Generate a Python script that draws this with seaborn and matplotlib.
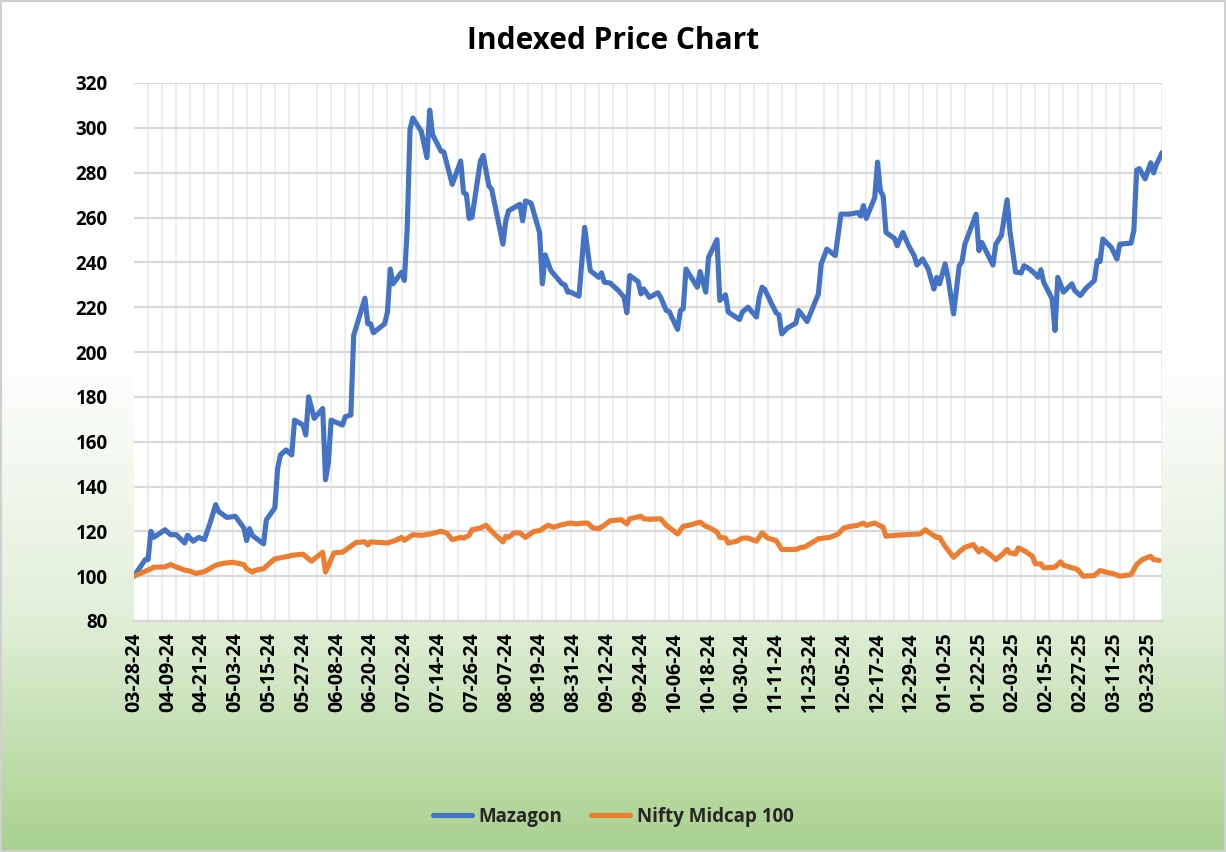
import numpy as np
import pandas as pd
import matplotlib
matplotlib.use("Agg")
import matplotlib.pyplot as plt
import matplotlib.dates as mdates
from matplotlib.ticker import FixedLocator
from matplotlib.lines import Line2D
from matplotlib.patches import Rectangle
import seaborn as sns

# ---------------- data ----------------
mazagon_dates = [
    "2024-03-28", "2024-04-01", "2024-04-02", "2024-04-03", "2024-04-04", "2024-04-08", "2024-04-10",
    "2024-04-12", "2024-04-15", "2024-04-16", "2024-04-18", "2024-04-20", "2024-04-22", "2024-04-24",
    "2024-04-26", "2024-04-27", "2024-04-30", "2024-05-03", "2024-05-06", "2024-05-07", "2024-05-08",
    "2024-05-09", "2024-05-13", "2024-05-14", "2024-05-17", "2024-05-18", "2024-05-19", "2024-05-21",
    "2024-05-23", "2024-05-24", "2024-05-27", "2024-05-28", "2024-05-29", "2024-05-31", "2024-06-03",
    "2024-06-04", "2024-06-05", "2024-06-06", "2024-06-10", "2024-06-11", "2024-06-13", "2024-06-14",
    "2024-06-18", "2024-06-19", "2024-06-20", "2024-06-21", "2024-06-25", "2024-06-26", "2024-06-27",
    "2024-06-28", "2024-07-01", "2024-07-02", "2024-07-03", "2024-07-04", "2024-07-05", "2024-07-08",
    "2024-07-10", "2024-07-11", "2024-07-12", "2024-07-15", "2024-07-16", "2024-07-19", "2024-07-22",
    "2024-07-23", "2024-07-24", "2024-07-25", "2024-07-26", "2024-07-29", "2024-07-30", "2024-08-01",
    "2024-08-02", "2024-08-06", "2024-08-07", "2024-08-08", "2024-08-12", "2024-08-13", "2024-08-14",
    "2024-08-16", "2024-08-19", "2024-08-20", "2024-08-21", "2024-08-23", "2024-08-27", "2024-08-28",
    "2024-08-29", "2024-08-30", "2024-09-02", "2024-09-04", "2024-09-06", "2024-09-09", "2024-09-10",
    "2024-09-11", "2024-09-13", "2024-09-16", "2024-09-18", "2024-09-19", "2024-09-20", "2024-09-23",
    "2024-09-24", "2024-09-25", "2024-09-27", "2024-09-30", "2024-10-01", "2024-10-03", "2024-10-04",
    "2024-10-07", "2024-10-08", "2024-10-09", "2024-10-10", "2024-10-14", "2024-10-15", "2024-10-17",
    "2024-10-18", "2024-10-21", "2024-10-22", "2024-10-24", "2024-10-25", "2024-10-29", "2024-10-30",
    "2024-11-01", "2024-11-04", "2024-11-05", "2024-11-06", "2024-11-07", "2024-11-09", "2024-11-11",
    "2024-11-12", "2024-11-13", "2024-11-15", "2024-11-18", "2024-11-19", "2024-11-22", "2024-11-26",
    "2024-11-27", "2024-11-29", "2024-12-02", "2024-12-04", "2024-12-07", "2024-12-10", "2024-12-11",
    "2024-12-12", "2024-12-13", "2024-12-16", "2024-12-17", "2024-12-18", "2024-12-19", "2024-12-20",
    "2024-12-23", "2024-12-24", "2024-12-26", "2024-12-28", "2024-12-30", "2024-12-31", "2025-01-02",
    "2025-01-04", "2025-01-06", "2025-01-07", "2025-01-08", "2025-01-10", "2025-01-11", "2025-01-13",
    "2025-01-15", "2025-01-16", "2025-01-17", "2025-01-21", "2025-01-22", "2025-01-23", "2025-01-27",
    "2025-01-28", "2025-01-30", "2025-02-01", "2025-02-02", "2025-02-04", "2025-02-06", "2025-02-07",
    "2025-02-09", "2025-02-11", "2025-02-12", "2025-02-13", "2025-02-14", "2025-02-17", "2025-02-18",
    "2025-02-19", "2025-02-21", "2025-02-24", "2025-02-25", "2025-02-27", "2025-03-01", "2025-03-04",
    "2025-03-05", "2025-03-06", "2025-03-07", "2025-03-10", "2025-03-12", "2025-03-13", "2025-03-17",
    "2025-03-18", "2025-03-19", "2025-03-20", "2025-03-22", "2025-03-24", "2025-03-25", "2025-03-26",
    "2025-03-28",
]
mazagon_values = [
    100.0, 107.4, 107.4, 120.0, 117.3, 120.7, 118.5,
    118.5, 114.8, 118.2, 115.6, 117.3, 116.3, 123.7,
    131.9, 128.9, 126.2, 126.7, 121.5, 115.9, 121.2,
    118.2, 114.4, 125.2, 130.4, 148.1, 154.1, 156.3,
    154.1, 169.6, 167.4, 163.0, 180.0, 170.4, 174.8,
    143.0, 150.4, 169.6, 167.4, 171.1, 171.9, 207.4,
    224.0, 212.6, 212.6, 208.6, 212.6, 217.8, 237.0,
    230.4, 235.6, 231.9, 254.8, 299.3, 304.4, 298.5,
    286.7, 307.9, 297.0, 289.6, 289.2, 274.8, 285.2,
    271.1, 270.4, 259.6, 260.0, 285.2, 287.7, 274.1,
    272.6, 248.1, 258.5, 263.0, 265.9, 258.5, 267.4,
    266.4, 253.3, 230.4, 243.3, 236.3, 230.4, 229.9,
    226.7, 226.7, 224.9, 255.6, 236.3, 233.3, 235.3,
    231.1, 230.8, 227.4, 224.4, 217.5, 234.1, 231.4,
    225.9, 228.1, 224.4, 226.4, 224.4, 218.5, 218.1,
    210.1, 218.5, 219.3, 237.0, 228.9, 235.9, 226.7,
    242.2, 250.1, 223.0, 225.5, 217.8, 214.5, 217.8,
    220.0, 215.6, 224.4, 228.9, 227.9, 222.5, 217.5,
    216.6, 208.1, 210.7, 212.9, 218.5, 213.6, 225.9,
    239.3, 245.9, 243.0, 261.5, 261.5, 262.2, 260.7,
    265.3, 259.6, 268.9, 284.7, 271.9, 269.6, 253.3,
    250.7, 247.4, 253.3, 247.5, 243.0, 238.8, 241.5,
    237.0, 228.1, 233.3, 230.4, 239.3, 233.3, 217.0,
    238.5, 240.3, 248.1, 261.5, 245.2, 248.9, 238.8,
    248.1, 252.1, 267.9, 254.1, 235.6, 235.3, 238.5,
    237.0, 234.8, 233.3, 236.7, 231.1, 223.7, 209.6,
    233.3, 226.7, 230.4, 227.4, 225.2, 228.4, 231.9,
    240.7, 240.3, 250.4, 246.7, 241.5, 248.1, 248.6,
    254.1, 281.2, 281.8, 277.2, 284.4, 279.9, 283.6,
    288.9,
]

nifty_dates = [
    "2024-03-28", "2024-04-03", "2024-04-04", "2024-04-08", "2024-04-10", "2024-04-12", "2024-04-15",
    "2024-04-17", "2024-04-19", "2024-04-22", "2024-04-26", "2024-04-29", "2024-05-02", "2024-05-06",
    "2024-05-07", "2024-05-09", "2024-05-10", "2024-05-13", "2024-05-15", "2024-05-17", "2024-05-22",
    "2024-05-23", "2024-05-27", "2024-05-30", "2024-06-03", "2024-06-04", "2024-06-07", "2024-06-10",
    "2024-06-15", "2024-06-18", "2024-06-19", "2024-06-20", "2024-06-26", "2024-06-29", "2024-07-01",
    "2024-07-02", "2024-07-05", "2024-07-08", "2024-07-11", "2024-07-15", "2024-07-17", "2024-07-19",
    "2024-07-22", "2024-07-23", "2024-07-25", "2024-07-26", "2024-07-29", "2024-07-31", "2024-08-03",
    "2024-08-06", "2024-08-07", "2024-08-08", "2024-08-10", "2024-08-12", "2024-08-14", "2024-08-17",
    "2024-08-19", "2024-08-22", "2024-08-24", "2024-08-27", "2024-08-30", "2024-09-01", "2024-09-03",
    "2024-09-05", "2024-09-07", "2024-09-09", "2024-09-11", "2024-09-13", "2024-09-17", "2024-09-19",
    "2024-09-20", "2024-09-24", "2024-09-25", "2024-09-27", "2024-10-01", "2024-10-03", "2024-10-07",
    "2024-10-09", "2024-10-11", "2024-10-15", "2024-10-17", "2024-10-18", "2024-10-21", "2024-10-22",
    "2024-10-24", "2024-10-25", "2024-10-28", "2024-10-30", "2024-11-01", "2024-11-04", "2024-11-06",
    "2024-11-08", "2024-11-11", "2024-11-13", "2024-11-18", "2024-11-20", "2024-11-21", "2024-11-23",
    "2024-11-26", "2024-11-28", "2024-11-30", "2024-12-03", "2024-12-05", "2024-12-07", "2024-12-10",
    "2024-12-12", "2024-12-13", "2024-12-16", "2024-12-19", "2024-12-20", "2024-12-23", "2024-12-27",
    "2025-01-01", "2025-01-03", "2025-01-04", "2025-01-07", "2025-01-08", "2025-01-10", "2025-01-13",
    "2025-01-15", "2025-01-17", "2025-01-20", "2025-01-22", "2025-01-23", "2025-01-26", "2025-01-28",
    "2025-01-30", "2025-02-01", "2025-02-02", "2025-02-04", "2025-02-05", "2025-02-07", "2025-02-10",
    "2025-02-11", "2025-02-13", "2025-02-14", "2025-02-18", "2025-02-20", "2025-02-21", "2025-02-26",
    "2025-02-28", "2025-03-04", "2025-03-06", "2025-03-09", "2025-03-11", "2025-03-13", "2025-03-17",
    "2025-03-19", "2025-03-21", "2025-03-24", "2025-03-25", "2025-03-27",
]
nifty_values = [
    100.0, 103.3, 104.0, 104.1, 105.2, 104.1, 102.7,
    102.2, 101.2, 102.0, 104.9, 105.8, 106.2, 105.2,
    103.3, 101.8, 102.6, 103.3, 105.6, 107.7, 108.9,
    109.3, 109.8, 106.7, 110.7, 101.8, 110.4, 110.7,
    115.1, 115.3, 113.9, 115.3, 114.8, 116.0, 117.3,
    116.0, 118.5, 118.2, 118.8, 120.0, 119.3, 116.3,
    117.3, 117.0, 118.2, 120.7, 121.5, 122.7, 118.8,
    115.3, 117.8, 117.3, 119.3, 119.3, 117.3, 120.0,
    120.3, 122.7, 121.8, 123.0, 123.7, 123.3, 123.6,
    123.7, 121.5, 121.2, 122.7, 124.7, 125.2, 123.3,
    125.6, 126.7, 125.6, 125.4, 125.6, 122.7, 118.8,
    122.2, 122.7, 124.1, 122.2, 121.8, 119.7, 117.3,
    117.0, 114.8, 115.6, 117.0, 117.0, 115.6, 119.3,
    117.0, 115.9, 111.9, 111.9, 112.9, 112.9, 114.4,
    116.7, 117.0, 117.3, 118.8, 121.5, 122.1, 122.7,
    123.7, 122.7, 123.7, 121.8, 117.8, 118.2, 118.5,
    118.8, 120.7, 119.7, 117.3, 117.3, 113.3, 108.4,
    110.8, 112.9, 114.1, 110.8, 112.3, 109.6, 107.4,
    109.3, 111.9, 110.4, 109.9, 112.6, 111.4, 108.9,
    105.5, 105.5, 103.7, 104.0, 106.4, 104.9, 103.0,
    100.0, 100.3, 102.5, 101.5, 101.0, 100.0, 100.7,
    105.2, 107.4, 108.9, 107.4, 107.0,
]

series_names = ["Mazagon", "Nifty Midcap 100"]
series_colors = ["#4472C4", "#ED7D31"]
title_text = "Indexed Price Chart"
y_ticks = list(range(80, 321, 20))
x_start, x_end = "2024-03-28", "2025-03-28"
x_tick_dates = pd.date_range(x_start, x_end, freq="12D")
x_grid_dates = pd.date_range(x_start, x_end, freq="5D")

# ---------------- build table ----------------
df = pd.concat([
    pd.DataFrame({"date": pd.to_datetime(mazagon_dates), "value": mazagon_values, "series": series_names[0]}),
    pd.DataFrame({"date": pd.to_datetime(nifty_dates), "value": nifty_values, "series": series_names[1]}),
], ignore_index=True)

sns.set_theme(style="white")
plt.rcParams["font.family"] = ["Open Sans", "DejaVu Sans"]

W, H = 1226, 852
fig = plt.figure(figsize=(W / 100, H / 100), dpi=100)

# gradient background (white top -> light green bottom)
bg = fig.add_axes([0, 0, 1, 1], zorder=-10)
rows = np.linspace(0, 1, H)
stops = [0.0, 0.42, 0.72, 1.0]
cols = np.array([[255, 255, 255], [255, 255, 255], [226, 239, 218], [169, 209, 142]]) / 255.0
grad = np.stack([np.interp(rows, stops, cols[:, i]) for i in range(3)], axis=1)
bg.imshow(grad[:, None, :], aspect="auto", extent=[0, 1, 0, 1], origin="upper")
bg.set_xlim(0, 1)
bg.set_ylim(0, 1)
bg.axis("off")
fig.add_artist(Rectangle((0.0008, 0.0012), 0.9984, 0.9976, transform=fig.transFigure,
                         fill=False, edgecolor="#d0d0d0", linewidth=1.5))

L, R, T, B = 134, 1162, 83, 621
ax = fig.add_axes([L / W, 1 - B / H, (R - L) / W, (B - T) / H])
ax.set_facecolor("white")

sns.lineplot(data=df, x="date", y="value", hue="series", hue_order=series_names,
             palette=series_colors, linewidth=3.7, estimator=None, sort=True,
             legend=False, ax=ax, zorder=3)
for ln in ax.get_lines():
    ln.set_solid_joinstyle("round")
    ln.set_solid_capstyle("round")

ax.set_xlim(pd.Timestamp(x_start), pd.Timestamp(x_end))
ax.set_ylim(80, 320)
ax.set_yticks(y_ticks)
ax.xaxis.set_major_locator(FixedLocator(mdates.date2num(x_tick_dates)))
ax.xaxis.set_minor_locator(FixedLocator(mdates.date2num(x_grid_dates)))
ax.xaxis.set_major_formatter(mdates.DateFormatter("%m-%d-%y"))

ax.grid(False)
ax.grid(True, axis="y", which="major", color="#d9d9d9", linewidth=1.6, zorder=1)
ax.grid(True, axis="x", which="minor", color="#ececec", linewidth=1.3, zorder=0)
ax.set_axisbelow(True)

for s in ["top", "right", "left"]:
    ax.spines[s].set_visible(False)
ax.spines["bottom"].set_color("#d9d9d9")
ax.spines["bottom"].set_linewidth(1.6)

ax.tick_params(axis="x", which="major", direction="out", length=6, width=1.4, color="#d9d9d9",
               pad=2, labelsize=14, labelrotation=90)
ax.tick_params(axis="x", which="minor", length=0)
ax.tick_params(axis="y", length=0, pad=19, labelsize=13.5)
for lab in ax.get_xticklabels() + ax.get_yticklabels():
    lab.set_fontweight("bold")
    lab.set_color("black")
ax.set_xlabel("")
ax.set_ylabel("")

fig.text(0.5, 1 - 41 / H, title_text, ha="center", va="center", fontsize=21.5,
         fontweight="bold", color="black")

handles = [Line2D([0], [0], color=c, linewidth=3.7) for c in series_colors]
leg = fig.legend(handles, series_names, loc="center", bbox_to_anchor=(0.5, 1 - 817 / H),
                 ncol=2, frameon=False, handlelength=2.1, handletextpad=0.35,
                 columnspacing=1.5, prop={"weight": "bold", "size": 13.5})

fig.savefig("out.png", dpi=100)
